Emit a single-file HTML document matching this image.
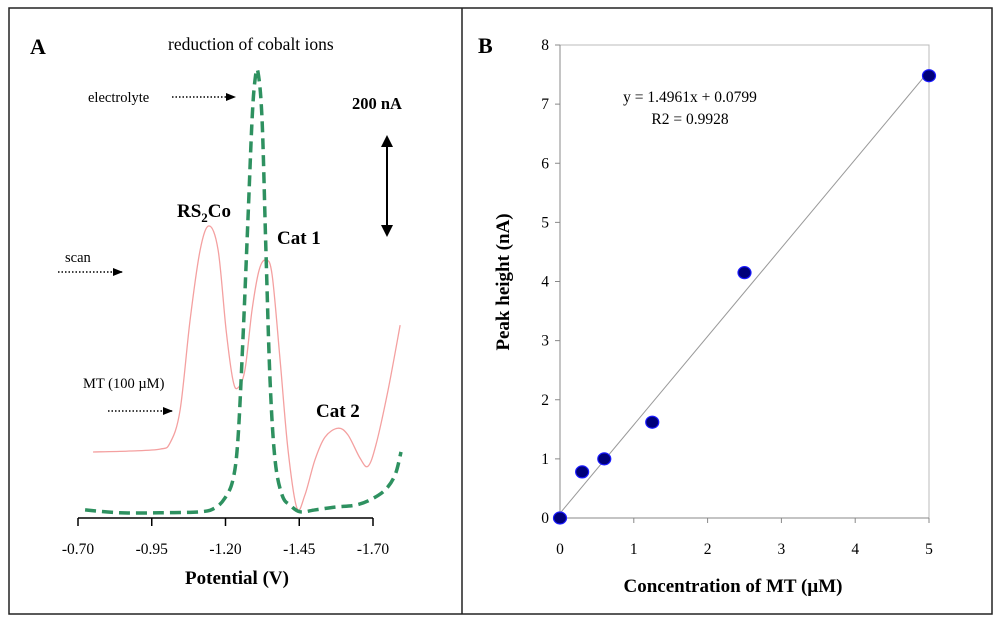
<!DOCTYPE html>
<html><head><meta charset="utf-8"><style>
html,body{margin:0;padding:0;background:#fff;}
svg{display:block;font-family:"Liberation Serif",serif;}
</style></head><body>
<svg id="fig" width="1000" height="623" viewBox="0 0 1000 623">
<defs>
<marker id="ah" markerWidth="10" markerHeight="8" refX="9" refY="4" orient="auto" markerUnits="userSpaceOnUse"><path d="M0,0 L10,4 L0,8 Z" fill="#000"/></marker>
<marker id="ah2" markerWidth="12" markerHeight="12" refX="10" refY="6" orient="auto-start-reverse" markerUnits="userSpaceOnUse"><path d="M0,0 L12,6 L0,12 Z" fill="#000"/></marker>
</defs>
<rect x="9" y="8" width="983" height="606" fill="none" stroke="#222" stroke-width="1.5"/>
<line x1="462" y1="8" x2="462" y2="614" stroke="#222" stroke-width="1.5"/>

<g id="panelA">
<text x="30" y="54" font-size="22" font-weight="bold">A</text>
<text x="168" y="50" font-size="17.5">reduction of cobalt ions</text>
<g id="axA"></g>
<text x="237" y="584" font-size="19" font-weight="bold" text-anchor="middle">Potential (V)</text>
<g id="curvesA"></g>
<text x="88" y="102" font-size="14.5">electrolyte</text>
<line x1="172" y1="97" x2="235" y2="97" stroke="#000" stroke-width="1.6" stroke-dasharray="1.5,2" marker-end="url(#ah)"/>
<text x="352" y="109" font-size="16.5" font-weight="bold">200 nA</text>
<line x1="387" y1="137" x2="387" y2="235" stroke="#000" stroke-width="2" marker-end="url(#ah2)" marker-start="url(#ah2)"/>
<text x="177" y="217" font-size="19" font-weight="bold">RS<tspan font-size="13" dy="5">2</tspan><tspan dy="-5">Co</tspan></text>
<text x="277" y="244" font-size="19" font-weight="bold">Cat 1</text>
<text x="65" y="262" font-size="14.5">scan</text>
<line x1="58" y1="272" x2="122" y2="272" stroke="#000" stroke-width="1.6" stroke-dasharray="1.5,2" marker-end="url(#ah)"/>
<text x="83" y="388" font-size="14.5">MT (100 µM)</text>
<line x1="108" y1="411" x2="172" y2="411" stroke="#000" stroke-width="1.6" stroke-dasharray="1.5,2" marker-end="url(#ah)"/>
<text x="316" y="417" font-size="19" font-weight="bold">Cat 2</text>
</g>

<g id="panelB">
<text x="478" y="53" font-size="22" font-weight="bold">B</text>
<g id="plotB"></g>
<text x="690" y="102" font-size="15.5" text-anchor="middle">y = 1.4961x + 0.0799</text>
<text x="690" y="124" font-size="15.5" text-anchor="middle">R2 = 0.9928</text>
<text x="733" y="592" font-size="19" font-weight="bold" text-anchor="middle">Concentration of MT (µM)</text>
<text transform="translate(509,282) rotate(-90)" font-size="19" font-weight="bold" text-anchor="middle">Peak height (nA)</text>
</g>
</svg>
<script>
// Panel A data
const aTicks = [-0.70, -0.95, -1.20, -1.45, -1.70];
const mtPotential = [-0.751,-0.876,-0.978,-1.012,-1.046,-1.080,-1.114,-1.144,-1.175,-1.202,-1.225,-1.242,-1.266,-1.290,-1.314,-1.337,-1.358,-1.385,-1.412,-1.442,-1.469,-1.503,-1.537,-1.581,-1.615,-1.656,-1.683,-1.710,-1.751,-1.792];
const mtCurrent = [139,141,145,158,227,417,564,615,564,396,291,274,312,438,522,543,512,333,143,21,48,122,170,189,175,126,109,154,269,406];
const elPotential = [-0.724,-0.842,-0.978,-1.114,-1.164,-1.198,-1.225,-1.242,-1.259,-1.276,-1.290,-1.300,-1.310,-1.324,-1.337,-1.351,-1.368,-1.392,-1.419,-1.453,-1.503,-1.571,-1.639,-1.690,-1.741,-1.775,-1.795];
const elCurrent = [17,11,11,13,21,42,80,164,375,627,838,922,939,838,564,290,122,48,27,13,17,23,27,38,59,91,139];
// Panel B data
const concX = [0, 0.3, 0.6, 1.25, 2.5, 5];
const peakY = [0, 0.78, 1.0, 1.62, 4.15, 7.48];
const bXTicks = [0,1,2,3,4,5];
const bYTicks = [0,1,2,3,4,5,6,7,8];
const fitSlope = 1.4961, fitIntercept = 0.0799;

const NS = "http://www.w3.org/2000/svg";
function mk(tag, attrs, parent){const e=document.createElementNS(NS,tag);for(const k in attrs)e.setAttribute(k,attrs[k]);parent.appendChild(e);return e;}

const ax = v => 78 + (-0.70 - v) / 0.25 * 73.75;
const ay = i => 518 - i * 95 / 200;

const axA = document.getElementById('axA');
let l = mk('line',{x1:78,y1:518,x2:373,y2:518,stroke:'#000','stroke-width':1.5},axA);


aTicks.forEach(t=>{
  const tk = mk('line',{x1:ax(t),y1:518,x2:ax(t),y2:526,stroke:'#000','stroke-width':1.5},axA);
  
  
  const tx = mk('text',{x:ax(t),y:554,'font-size':15.5,'text-anchor':'middle'},axA);
  tx.textContent = t.toFixed(2);
  
  
});

function smoothPath(xs, ys){
  const p = xs.map((x,i)=>[ax(x), ay(ys[i])]);
  let d = `M${p[0][0]},${p[0][1]}`;
  for(let i=0;i<p.length-1;i++){
    const p0=p[Math.max(0,i-1)],p1=p[i],p2=p[i+1],p3=p[Math.min(p.length-1,i+2)];
    const c1=[p1[0]+(p2[0]-p0[0])/6,p1[1]+(p2[1]-p0[1])/6];
    const c2=[p2[0]-(p3[0]-p1[0])/6,p2[1]-(p3[1]-p1[1])/6];
    d+=` C${c1[0]},${c1[1]} ${c2[0]},${c2[1]} ${p2[0]},${p2[1]}`;
  }
  return d;
}
const cg = document.getElementById('curvesA');
const mtLine = mk('path',{d:smoothPath(mtPotential,mtCurrent),fill:'none',stroke:'#f4a0a0','stroke-width':1.3},cg);


const elLine = mk('path',{d:smoothPath(elPotential,elCurrent),fill:'none',stroke:'#2e9160','stroke-width':3.5,'stroke-dasharray':'11,6'},cg);



// Panel B
const bx = v => 560 + v * (929-560)/5;
const by = v => 518 - v * (518-45)/8;
const pb = document.getElementById('plotB');
const frame = mk('rect',{x:560,y:45,width:369,height:473,fill:'none',stroke:'#bbb','stroke-width':1},pb);


const xa = mk('line',{x1:560,y1:518,x2:929,y2:518,stroke:'#888','stroke-width':1},pb);


const ya = mk('line',{x1:560,y1:45,x2:560,y2:518,stroke:'#888','stroke-width':1},pb);


bXTicks.forEach(t=>{
  const tk = mk('line',{x1:bx(t),y1:518,x2:bx(t),y2:523,stroke:'#888'},pb);
  
  
  const tx = mk('text',{x:bx(t),y:554,'font-size':15.5,'text-anchor':'middle'},pb);
  tx.textContent = t;
  
  
});
bYTicks.forEach(t=>{
  const tk = mk('line',{x1:555,y1:by(t),x2:560,y2:by(t),stroke:'#888'},pb);
  
  
  const tx = mk('text',{x:549,y:by(t)+5,'font-size':15.5,'text-anchor':'end'},pb);
  tx.textContent = t;
  
  
});
const fit = mk('line',{x1:bx(0),y1:by(fitIntercept),x2:bx(5),y2:by(fitSlope*5+fitIntercept),stroke:'#999','stroke-width':1},pb);


concX.forEach((x,i)=>{
  const c = mk('ellipse',{cx:bx(x),cy:by(peakY[i]),rx:6.5,ry:6,fill:'#00007a',stroke:'#1a1aff','stroke-width':1.2},pb);
  
  
});
</script>
</body></html>
